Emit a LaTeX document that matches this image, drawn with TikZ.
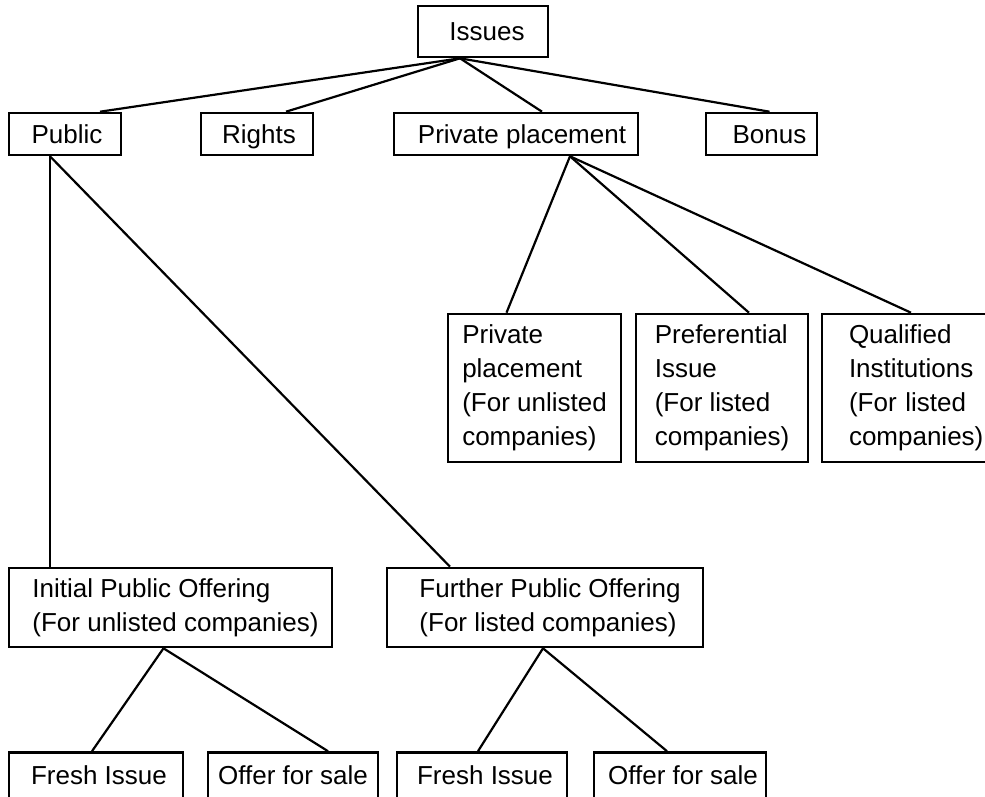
\documentclass[tikz,border=0pt]{standalone}
\usepackage{fontspec}
\setmainfont{Liberation Sans}
\begin{document}
\begin{tikzpicture}[x=1pt,y=-1pt,
  box/.style={draw,line width=2.6pt,inner sep=0pt,align=center,font=\fontsize{26}{34}\selectfont},
  single/.style={box,text height=23.4pt,text depth=4.8pt},
  multi/.style={box,align=left},
  link/.style={line width=2.2pt}]
\useasboundingbox (0,0) rectangle (985,797);
\clip (0,0) rectangle (985,797);
% top
\node[single,minimum width=130pt,minimum height=51pt] (issues) at (483,31.5) {\hspace*{8pt}Issues};
% second row
\node[single,minimum width=112pt,minimum height=42pt] (public) at (65,134) {\hspace*{4pt}Public};
\node[single,minimum width=112pt,minimum height=42pt] (rights) at (257,134) {\hspace*{4pt}Rights};
\node[single,minimum width=244pt,minimum height=42pt] (priv) at (516,134) {\hspace*{12pt}Private placement};
\node[single,minimum width=111pt,minimum height=42pt] (bonus) at (761.5,134) {\hspace*{16pt}Bonus};
% private placement children
\node[multi,minimum width=173pt,minimum height=148pt] (pp1) at (534.5,388) {Private\\placement\\(For unlisted\\companies)};
\node[multi,minimum width=172pt,minimum height=148pt] (pref) at (722,388) {Preferential\\Issue\\(For listed\\companies)};
\node[multi,minimum width=172pt,minimum height=148pt,text width=118pt] (qual) at (908,388) {Qualified\\Institutions\\(For listed\\companies)};
% public offerings
\node[multi,minimum width=323pt,minimum height=79pt] (ipo) at (170.5,607.5) {\hspace*{10pt}Initial Public Offering\\\hspace*{10pt}(For unlisted companies)};
\node[multi,minimum width=316pt,minimum height=79pt] (fpo) at (545,607.5) {\hspace*{10pt}Further Public Offering\\\hspace*{10pt}(For listed companies)};
% bottom row
\node[single,minimum width=174pt,minimum height=46pt] (fresh1) at (96,775.5) {\hspace*{6pt}Fresh Issue};
\node[single,minimum width=170pt,minimum height=46pt] (offer1) at (293,775.5) {Offer for sale};
\node[single,minimum width=170pt,minimum height=46pt] (fresh2) at (482,775.5) {\hspace*{6pt}Fresh Issue};
\node[single,minimum width=172pt,minimum height=46pt] (offer2) at (680,775.5) {\hspace*{6pt}Offer for sale};
% connectors from Issues
\draw[link] ([xshift=-23pt]issues.south) -- ([xshift=35pt]public.north);
\draw[link] ([xshift=-23pt]issues.south) -- ([xshift=29pt]rights.north);
\draw[link] ([xshift=-23pt]issues.south) -- ([xshift=26pt]priv.north);
\draw[link] ([xshift=-23pt]issues.south) -- ([xshift=8pt]bonus.north);
% Public
\draw[link] ([xshift=-15pt]public.south) -- ([xshift=-15pt]public.south |- ipo.north);
\draw[link] ([xshift=-15pt]public.south) -- ([xshift=-95pt]fpo.north);
% Private placement
\draw[link] ([xshift=54pt]priv.south) -- ([xshift=-28pt]pp1.north);
\draw[link] ([xshift=54pt]priv.south) -- ([xshift=27pt]pref.north);
\draw[link] ([xshift=54pt]priv.south) -- ([xshift=3pt]qual.north);
% IPO / FPO
\draw[link] ([xshift=-7pt]ipo.south) -- ([xshift=-4pt]fresh1.north);
\draw[link] ([xshift=-7pt]ipo.south) -- ([xshift=35pt]offer1.north);
\draw[link] ([xshift=-2pt]fpo.south) -- ([xshift=-4pt]fresh2.north);
\draw[link] ([xshift=-2pt]fpo.south) -- ([xshift=-13pt]offer2.north);
\end{tikzpicture}
\end{document}
